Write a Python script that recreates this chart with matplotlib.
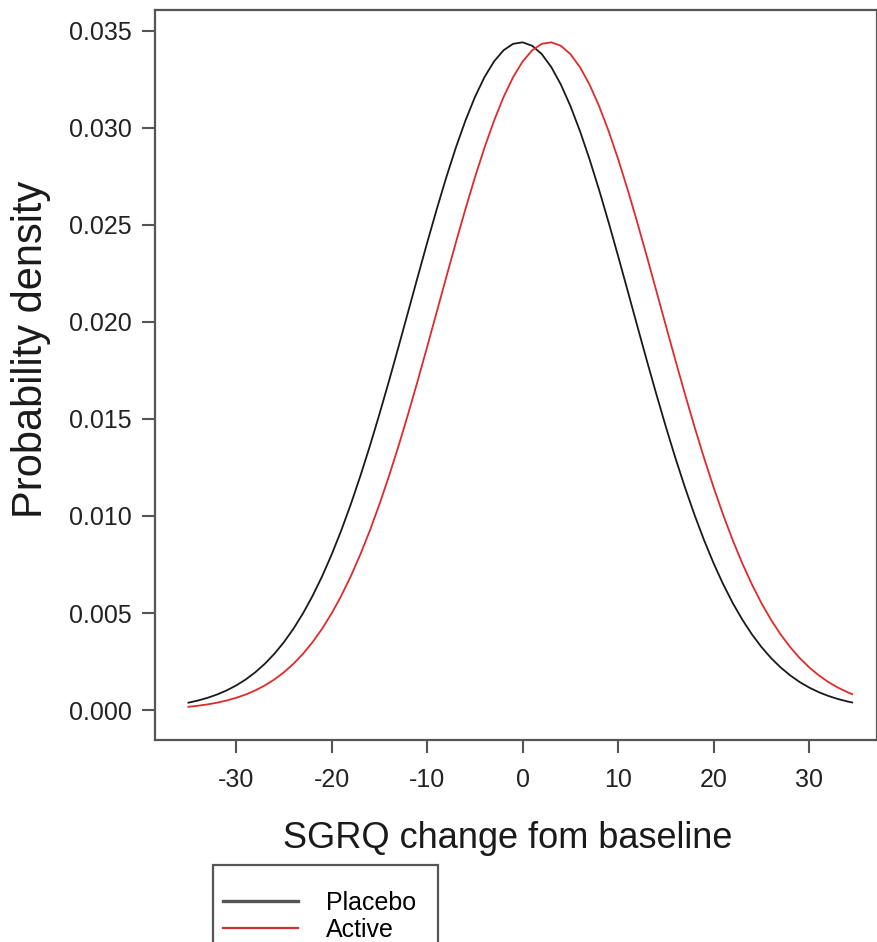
import matplotlib
matplotlib.use("Agg")
import matplotlib.pyplot as plt
from matplotlib.patches import Rectangle
from matplotlib.lines import Line2D

plt.rcParams['font.family'] = ['Liberation Sans', 'DejaVu Sans']

# values (x step of 1, last point at 34.5)
sgrq = list(range(-35, 35)) + [34.5]

placebo = [0.000382, 0.000493, 0.000632, 0.000803, 0.001013, 0.001269, 0.001578, 0.001947,
           0.002385, 0.002900, 0.003500, 0.004192, 0.004985, 0.005884, 0.006893, 0.008015,
           0.009251, 0.010599, 0.012053, 0.013605, 0.015243, 0.016952, 0.018714, 0.020505,
           0.022301, 0.024076, 0.025798, 0.027440, 0.028969, 0.030358, 0.031578, 0.032603,
           0.033412, 0.033988, 0.034318,
           0.034395, 0.034216, 0.033787, 0.033116, 0.032218, 0.031112, 0.029821, 0.028373,
           0.026795, 0.025117, 0.023370, 0.021584, 0.019786, 0.018004, 0.016262, 0.014579,
           0.012973, 0.011459, 0.010047, 0.008743, 0.007552, 0.006476, 0.005511, 0.004656,
           0.003904, 0.003249, 0.002684, 0.002201, 0.001792, 0.001447, 0.001161, 0.000924,
           0.000730, 0.000573, 0.000446, 0.000392]

active = [0.000170, 0.000224, 0.000294,
          0.000382, 0.000493, 0.000632, 0.000803, 0.001013, 0.001269, 0.001578, 0.001947,
          0.002385, 0.002900, 0.003500, 0.004192, 0.004985, 0.005884, 0.006893, 0.008015,
          0.009251, 0.010599, 0.012053, 0.013605, 0.015243, 0.016952, 0.018714, 0.020505,
          0.022301, 0.024076, 0.025798, 0.027440, 0.028969, 0.030358, 0.031578, 0.032603,
          0.033412, 0.033988, 0.034318,
          0.034395, 0.034216, 0.033787, 0.033116, 0.032218, 0.031112, 0.029821, 0.028373,
          0.026795, 0.025117, 0.023370, 0.021584, 0.019786, 0.018004, 0.016262, 0.014579,
          0.012973, 0.011459, 0.010047, 0.008743, 0.007552, 0.006476, 0.005511, 0.004656,
          0.003904, 0.003249, 0.002684, 0.002201, 0.001792, 0.001447, 0.001161, 0.000924,
          0.000822]

xticks = [-30, -20, -10, 0, 10, 20, 30]
yticks = [0.000, 0.005, 0.010, 0.015, 0.020, 0.025, 0.030, 0.035]

W, H = 878, 942
fig = plt.figure(figsize=(W / 100, H / 100), dpi=100)
ax = fig.add_axes([155 / W, 1 - 740 / H, (877 - 155) / W, (740 - 10) / H])

ax.plot(sgrq, placebo, color='#1a1a1a', lw=1.3)
ax.plot(sgrq, active, color='#e02a2a', lw=1.3)

ax.set_xlim(-38.5, 37.1)
ax.set_ylim(-0.00154, 0.03606)
ax.set_xticks(xticks)
ax.set_xticklabels([str(t) for t in xticks])
ax.set_yticks(yticks)
ax.set_yticklabels(['%.3f' % t for t in yticks])

for s in ax.spines.values():
    s.set_color('#555555')
    s.set_linewidth(1.6)
ax.tick_params(axis='both', direction='out', length=9.5, width=1.5, color='#555555',
               labelsize=18, labelcolor='#222222')
ax.tick_params(axis='y', pad=7)
ax.tick_params(axis='x', pad=11)

fig.text(31 / W, 1 - 349 / H, 'Probability density', rotation=90, ha='center', va='center',
         fontsize=30, color='#1a1a1a')
fig.text(508 / W, 1 - 838 / H, 'SGRQ change fom baseline', ha='center', va='center',
         fontsize=26, color='#1a1a1a')

# legend box (runs off the bottom edge like the reference)
fig.patches.append(Rectangle((213 / W, 1 - 965 / H), (438 - 213) / W, (965 - 865) / H,
                             transform=fig.transFigure, fill=False, edgecolor='#555555',
                             lw=1.6))
handles = [Line2D([], [], color='#555555', lw=2.4), Line2D([], [], color='#d03030', lw=1.6)]
fig.legend(handles, ['Placebo', 'Active'], loc='upper left',
           bbox_to_anchor=(223 / W, 1 - 891 / H), frameon=False, fontsize=18,
           handlelength=3.0, handletextpad=1.1, labelspacing=0.12, borderpad=0,
           borderaxespad=0)

fig.savefig('out.png', dpi=100)
